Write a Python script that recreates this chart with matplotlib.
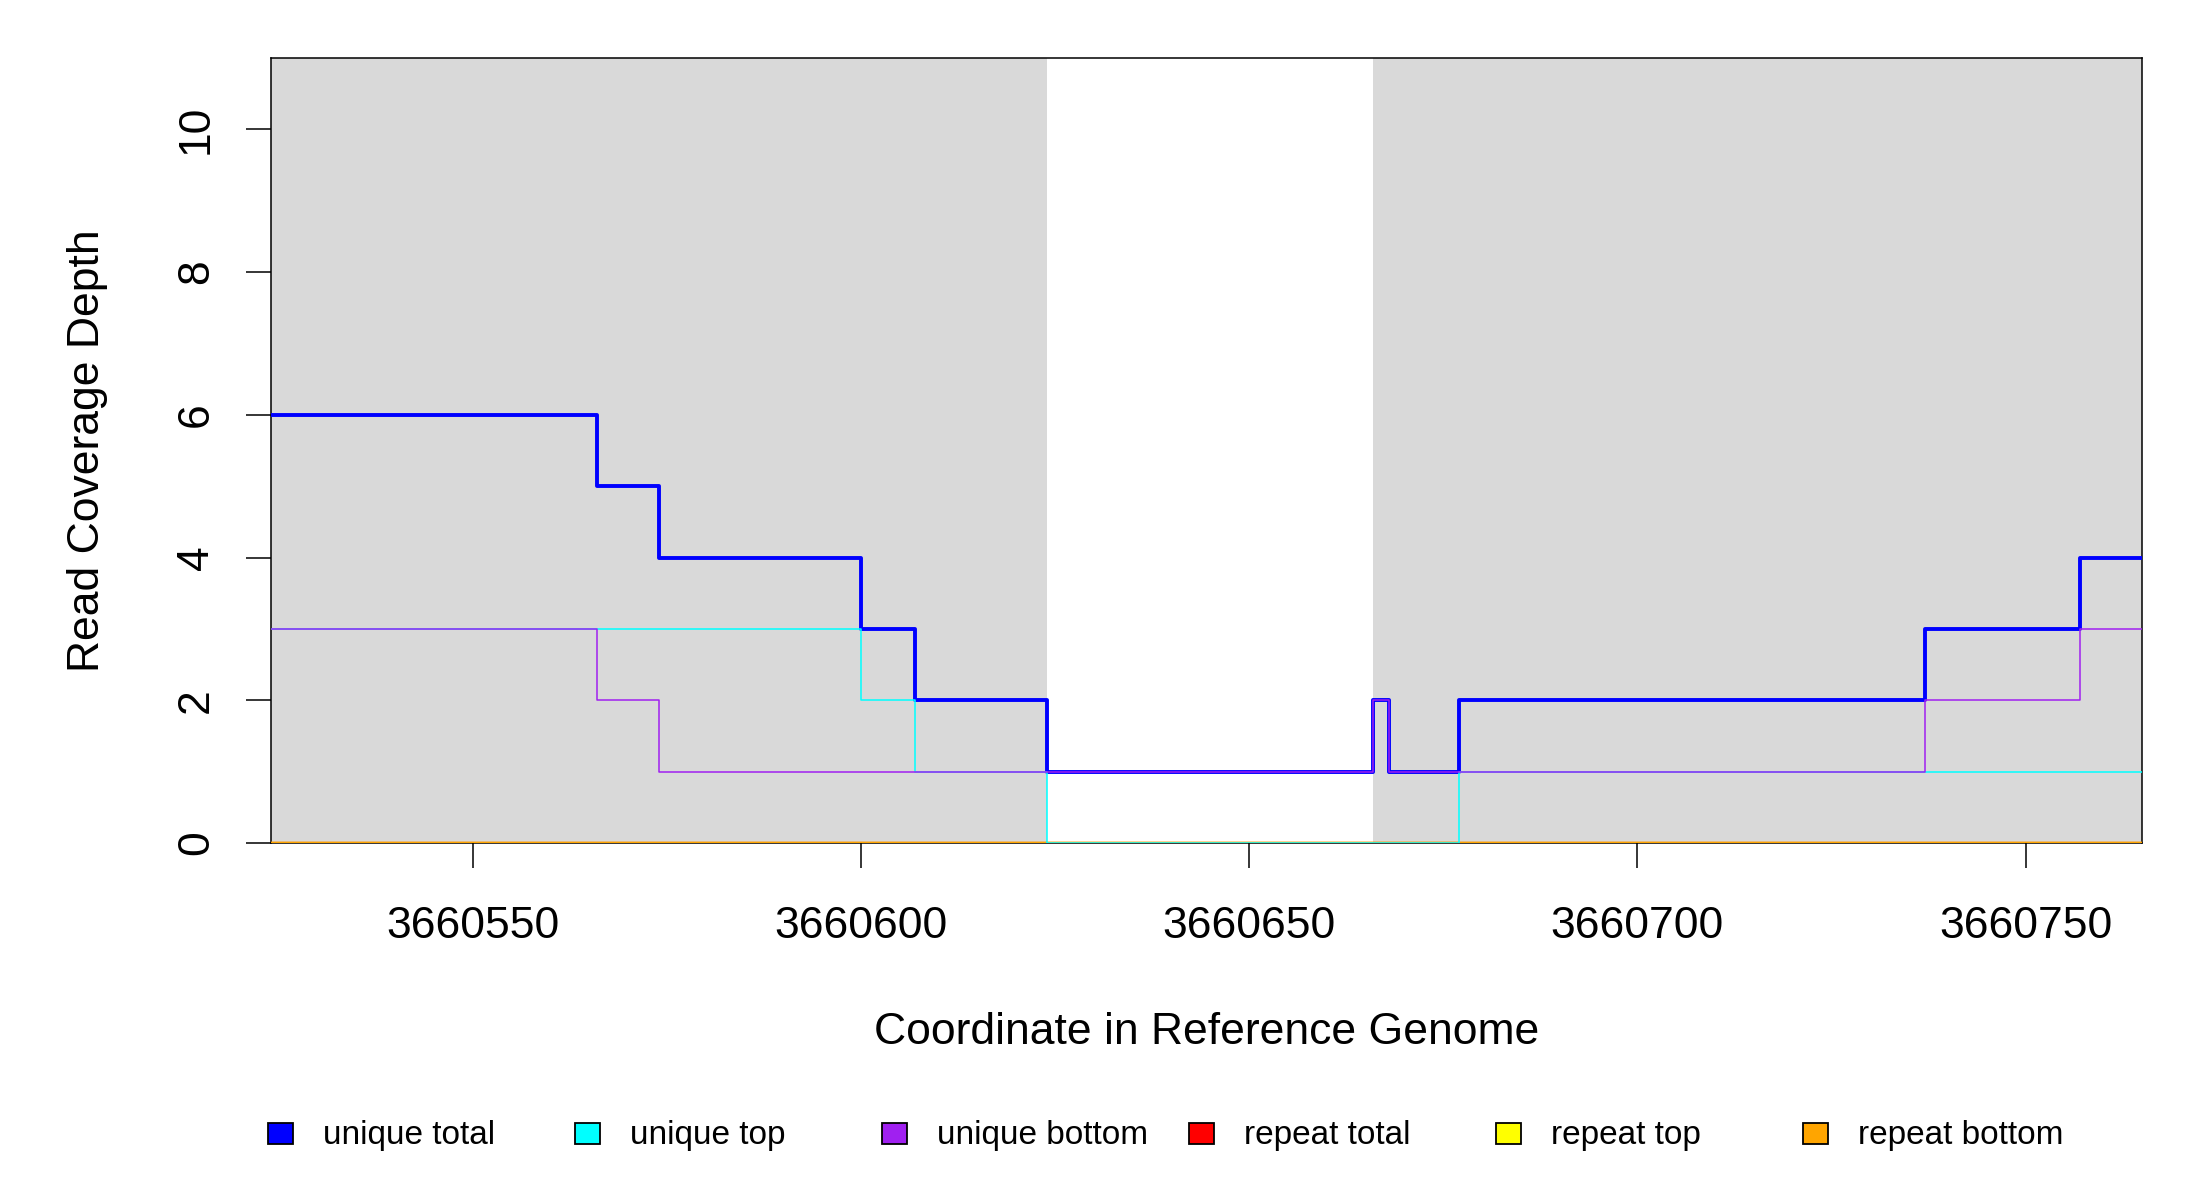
import matplotlib
matplotlib.use("Agg")
import matplotlib.pyplot as plt
from matplotlib.patches import Rectangle

# ---- data ----
positions = [3660524, 3660566, 3660574, 3660600, 3660607, 3660624,
             3660666, 3660668, 3660677, 3660737, 3660757, 3660765]
unique_total = [6, 5, 4, 3, 2, 1, 2, 1, 2, 3, 4, 4]
unique_top = [3, 3, 3, 2, 1, 0, 0, 0, 1, 1, 1, 1]
unique_bottom = [3, 2, 1, 1, 1, 1, 2, 1, 1, 2, 3, 3]
repeat_total = [0] * len(positions)
repeat_top = [0] * len(positions)
repeat_bottom = [0] * len(positions)

shade_starts = [3660524, 3660666]
shade_ends = [3660624, 3660765]

x_ticks = [3660550, 3660600, 3660650, 3660700, 3660750]
y_ticks = [0, 2, 4, 6, 8, 10]

legend_labels = ["unique total", "unique top", "unique bottom",
                 "repeat total", "repeat top", "repeat bottom"]
legend_colors = ["#0000FF", "#00FFFF", "#A020F0", "#FF0000", "#FFFF00", "#FFA500"]

# ---- figure ----
plt.rcParams['font.family'] = ['Liberation Sans', 'DejaVu Sans']
W, H = 2200, 1200
fig = plt.figure(figsize=(22, 12), dpi=100)
L, R, B, T = 271, 2142, 843, 58
ax = fig.add_axes([L / W, 1 - B / H, (R - L) / W, (B - T) / H])
ax.set_facecolor("white")

for s, e in zip(shade_starts, shade_ends):
    ax.axvspan(s, e, color="#D9D9D9", zorder=0.5, lw=0)

thin = 1.1
ax.step(positions, repeat_total, where='post', color="#FF0000", lw=2.4, zorder=3)
ax.step(positions, repeat_top, where='post', color="#FFFF00", lw=2.4, zorder=3)
ax.step(positions, repeat_bottom, where='post', color="#FFA500", lw=2.4, zorder=3)
ax.step(positions, unique_total, where='post', color="#0000FF", lw=2.8, zorder=3)
ax.step(positions, unique_top, where='post', color="#00FFFF", lw=thin, zorder=3)
ax.step(positions, unique_bottom, where='post', color="#A020F0", lw=thin, zorder=3)

ax.set_xlim(positions[0], positions[-1])
ax.set_ylim(0, 11)
ax.set_xticks(x_ticks)
ax.set_xticklabels([str(v) for v in x_ticks])
ax.set_yticks(y_ticks)
ax.set_yticklabels([str(v) for v in y_ticks], rotation=90, va='center')

ax.tick_params(axis='both', direction='out', length=18, width=1.1,
               labelsize=32, colors='black')
ax.tick_params(axis='x', pad=27)
ax.tick_params(axis='y', pad=21)

for sp in ax.spines.values():
    sp.set_linewidth(1.1)
    sp.set_color('black')
    sp.set_zorder(2.5)

ax.set_xlabel("Coordinate in Reference Genome", fontsize=32, va='center')
ax.xaxis.set_label_coords(0.5, (B - 1033) / (B - T))
ax.set_ylabel("Read Coverage Depth", fontsize=32, va='center', ha='center')
ax.yaxis.set_label_coords((88 - L) / (R - L), 0.5)

# ---- legend (horizontal, evenly spaced like the original) ----
sq_w, sq_h = 25, 21
for i, (lab, col) in enumerate(zip(legend_labels, legend_colors)):
    cx = 280 + i * 307.1
    cy = 1133
    fig.add_artist(Rectangle(((cx - sq_w / 2) / W, 1 - (cy + sq_h / 2) / H),
                             sq_w / W, sq_h / H, transform=fig.transFigure,
                             facecolor=col, edgecolor='black', lw=1.3))
    fig.text((cx + 43) / W, 1 - 1144 / H, lab, fontsize=24,
             ha='left', va='baseline')

fig.savefig("out.png", dpi=100, facecolor="white")
